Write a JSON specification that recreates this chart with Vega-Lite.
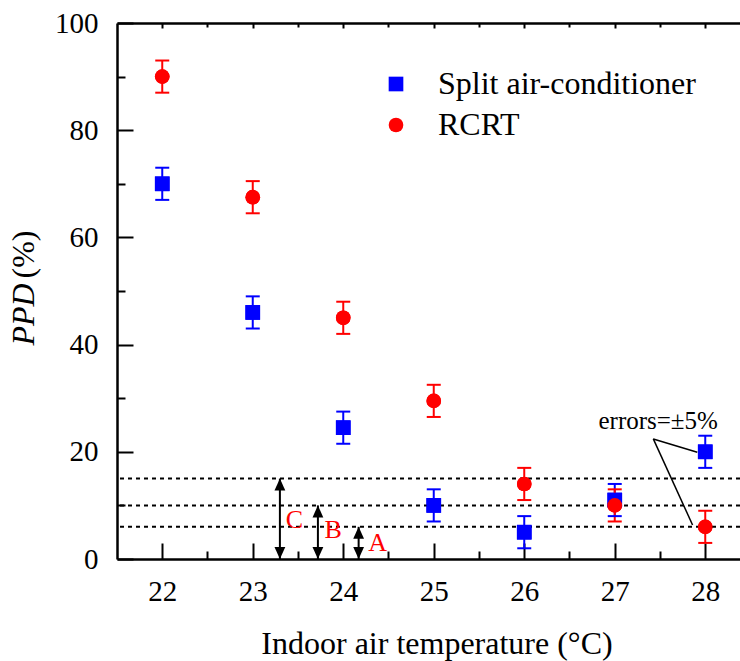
{
  "$schema": "https://vega.github.io/schema/vega-lite/v6.json",
  "width": 623,
  "height": 536,
  "autosize": "none",
  "padding": {"left": 117, "top": 23, "right": 0, "bottom": 102},
  "background": "white",
  "config": {
    "font": "Liberation Serif",
    "view": {"stroke": null},
    "axis": {
      "grid": false,
      "domainColor": "black",
      "domainWidth": 2.5,
      "tickColor": "black",
      "tickWidth": 2,
      "labelColor": "black",
      "labelFontSize": 29,
      "titleColor": "black",
      "titleFontSize": 32,
      "titleFontWeight": "normal",
      "labelFlush": false,
      "labelOverlap": false
    },
    "legend": {
      "labelFontSize": 32,
      "labelColor": "black",
      "labelLimit": 0,
      "symbolSize": 215,
      "labelOffset": 26,
      "rowPadding": 9,
      "padding": 0,
      "symbolStrokeWidth": 0,
      "symbolOpacity": 1
    }
  },
  "datasets": {
    "ppd": [
      {"temp": 22, "series": "Split air-conditioner", "ppd": 70, "lo": 67, "hi": 73},
      {"temp": 23, "series": "Split air-conditioner", "ppd": 46, "lo": 43, "hi": 49},
      {"temp": 24, "series": "Split air-conditioner", "ppd": 24.5, "lo": 21.5, "hi": 27.5},
      {"temp": 25, "series": "Split air-conditioner", "ppd": 10, "lo": 7, "hi": 13},
      {"temp": 26, "series": "Split air-conditioner", "ppd": 5, "lo": 2, "hi": 8},
      {"temp": 27, "series": "Split air-conditioner", "ppd": 11, "lo": 8, "hi": 14},
      {"temp": 28, "series": "Split air-conditioner", "ppd": 20, "lo": 17, "hi": 23},
      {"temp": 22, "series": "RCRT", "ppd": 90, "lo": 87, "hi": 93},
      {"temp": 23, "series": "RCRT", "ppd": 67.5, "lo": 64.5, "hi": 70.5},
      {"temp": 24, "series": "RCRT", "ppd": 45, "lo": 42, "hi": 48},
      {"temp": 25, "series": "RCRT", "ppd": 29.5, "lo": 26.5, "hi": 32.5},
      {"temp": 26, "series": "RCRT", "ppd": 14, "lo": 11, "hi": 17},
      {"temp": 27, "series": "RCRT", "ppd": 10, "lo": 7, "hi": 13},
      {"temp": 28, "series": "RCRT", "ppd": 6, "lo": 3, "hi": 9}
    ],
    "categories": [
      {"cat": "C", "ppd": 15, "base": 0, "temp": 23.3, "label_temp": 23.46, "label_ppd": 7.3},
      {"cat": "B", "ppd": 10, "base": 0, "temp": 23.72, "label_temp": 23.89, "label_ppd": 5.4},
      {"cat": "A", "ppd": 6, "base": 0, "temp": 24.17, "label_temp": 24.38, "label_ppd": 3.0}
    ],
    "leaders": [
      {"x1": 27.426, "y1": 22.4, "x2": 27.912, "y2": 19.92},
      {"x1": 27.426, "y1": 22.4, "x2": 27.86, "y2": 6.35}
    ],
    "notes": [
      {"temp": 27.48, "ppd": 25.8, "text": "errors=±5%"}
    ]
  },
  "resolve": {
    "axis": {"x": "independent", "y": "independent"},
    "legend": {"color": "independent", "shape": "independent"}
  },
  "layer": [
    {
      "data": {"name": "ppd"},
      "mark": {"type": "point", "filled": true, "size": 215, "opacity": 1},
      "encoding": {
        "x": {"field": "temp", "type": "quantitative", "scale": {"domain": [21.5, 28.384], "nice": false, "zero": false},
              "axis": {"orient": "bottom", "values": [22, 23, 24, 25, 26, 27, 28], "tickSize": -16, "labelPadding": 34, "domain": true,
                       "title": "Indoor air temperature (°C)", "titleX": 319.5, "titleY": 94, "titleAlign": "center", "titleBaseline": "alphabetic"}},
        "y": {"field": "ppd", "type": "quantitative", "scale": {"domain": [0, 100], "nice": false},
              "axis": {"orient": "left", "values": [0, 20, 40, 60, 80, 100], "tickSize": -16, "labelPadding": 35, "domain": true,
                       "title": "PPD", "titleFontStyle": "italic", "titleAngle": -90, "titleAlign": "left", "titleBaseline": "alphabetic",
                       "titleX": -84, "titleY": 322}},
        "color": {"field": "series", "type": "nominal",
                  "scale": {"domain": ["Split air-conditioner", "RCRT"], "range": ["#0000ff", "#ff0000"]},
                  "legend": {"title": null, "orient": "none", "legendX": 263, "legendY": 45}},
        "shape": {"field": "series", "type": "nominal",
                  "scale": {"domain": ["Split air-conditioner", "RCRT"], "range": ["square", "circle"]},
                  "legend": {"title": null, "orient": "none", "legendX": 263, "legendY": 45}}
      }
    },
    {
      "data": {"name": "categories"},
      "mark": {"type": "rule", "strokeDash": [4, 4], "strokeWidth": 2, "color": "black"},
      "encoding": {
        "y": {"field": "ppd", "type": "quantitative", "scale": {"domain": [0, 100], "nice": false}, "axis": null}
      }
    },
    {
      "data": {"name": "categories"},
      "mark": {"type": "rule", "strokeWidth": 2, "color": "black"},
      "encoding": {
        "x": {"field": "temp", "type": "quantitative", "scale": {"domain": [21.5, 28.384], "nice": false, "zero": false},
              "axis": {"orient": "bottom", "values": [22.5, 23.5, 24.5, 25.5, 26.5, 27.5], "tickSize": -8, "labels": false, "domain": false, "title": null}},
        "y": {"field": "base", "type": "quantitative", "scale": {"domain": [0, 100], "nice": false},
              "axis": {"orient": "left", "values": [10, 30, 50, 70, 90], "tickSize": -8, "labels": false, "domain": false, "title": null}},
        "y2": {"field": "ppd"}
      }
    },
    {
      "data": {"name": "categories"},
      "mark": {"type": "point", "shape": "M0,0L-0.9,2L0.9,2Z", "size": 144, "filled": true, "color": "black", "opacity": 1},
      "encoding": {
        "x": {"field": "temp", "type": "quantitative", "scale": {"domain": [21.5, 28.384], "nice": false, "zero": false},
              "axis": {"orient": "top", "values": [22, 23, 24, 25, 26, 27, 28], "tickSize": -5, "labels": false, "domain": true, "title": null}},
        "y": {"field": "ppd", "type": "quantitative", "scale": {"domain": [0, 100], "nice": false}, "axis": null}
      }
    },
    {
      "data": {"name": "categories"},
      "mark": {"type": "point", "shape": "M0,0L-0.9,-2L0.9,-2Z", "size": 144, "filled": true, "color": "black", "opacity": 1},
      "encoding": {
        "x": {"field": "temp", "type": "quantitative", "scale": {"domain": [21.5, 28.384], "nice": false, "zero": false},
              "axis": {"orient": "top", "values": [22.5, 23.5, 24.5, 25.5, 26.5, 27.5], "tickSize": -4, "labels": false, "domain": false, "title": null}},
        "y": {"field": "base", "type": "quantitative", "scale": {"domain": [0, 100], "nice": false}, "axis": null}
      }
    },
    {
      "data": {"name": "categories"},
      "mark": {"type": "text", "fontSize": 26, "color": "#ff0000", "align": "center", "baseline": "middle"},
      "encoding": {
        "x": {"field": "label_temp", "type": "quantitative", "scale": {"domain": [21.5, 28.384], "nice": false, "zero": false}, "axis": null},
        "y": {"field": "label_ppd", "type": "quantitative", "scale": {"domain": [0, 100], "nice": false},
              "axis": {"orient": "left", "ticks": false, "labels": false, "domain": false, "title": "(%)",
                       "titleFontStyle": "normal", "titleAngle": -90, "titleAlign": "left", "titleBaseline": "alphabetic",
                       "titleX": -84, "titleY": 255}},
        "text": {"field": "cat"}
      }
    },
    {
      "data": {"name": "ppd"},
      "mark": {"type": "rule", "strokeWidth": 2},
      "encoding": {
        "x": {"field": "temp", "type": "quantitative", "scale": {"domain": [21.5, 28.384], "nice": false, "zero": false}, "axis": null},
        "y": {"field": "lo", "type": "quantitative", "scale": {"domain": [0, 100], "nice": false}, "axis": null},
        "y2": {"field": "hi"},
        "stroke": {"field": "series", "type": "nominal",
                   "scale": {"domain": ["Split air-conditioner", "RCRT"], "range": ["#0000ff", "#ff0000"]}, "legend": null}
      }
    },
    {
      "data": {"name": "ppd"},
      "mark": {"type": "tick", "orient": "horizontal", "size": 14, "thickness": 2, "opacity": 1},
      "encoding": {
        "x": {"field": "temp", "type": "quantitative", "scale": {"domain": [21.5, 28.384], "nice": false, "zero": false}, "axis": null},
        "y": {"field": "lo", "type": "quantitative", "scale": {"domain": [0, 100], "nice": false}, "axis": null},
        "fill": {"field": "series", "type": "nominal",
                 "scale": {"domain": ["Split air-conditioner", "RCRT"], "range": ["#0000ff", "#ff0000"]}, "legend": null}
      }
    },
    {
      "data": {"name": "ppd"},
      "mark": {"type": "tick", "orient": "horizontal", "size": 14, "thickness": 2, "opacity": 1},
      "encoding": {
        "x": {"field": "temp", "type": "quantitative", "scale": {"domain": [21.5, 28.384], "nice": false, "zero": false}, "axis": null},
        "y": {"field": "hi", "type": "quantitative", "scale": {"domain": [0, 100], "nice": false}, "axis": null},
        "fill": {"field": "series", "type": "nominal",
                 "scale": {"domain": ["Split air-conditioner", "RCRT"], "range": ["#0000ff", "#ff0000"]}, "legend": null}
      }
    },
    {
      "data": {"name": "ppd"},
      "mark": {"type": "point", "filled": true, "size": 215, "opacity": 1},
      "encoding": {
        "x": {"field": "temp", "type": "quantitative", "scale": {"domain": [21.5, 28.384], "nice": false, "zero": false}, "axis": null},
        "y": {"field": "ppd", "type": "quantitative", "scale": {"domain": [0, 100], "nice": false}, "axis": null},
        "color": {"field": "series", "type": "nominal",
                  "scale": {"domain": ["Split air-conditioner", "RCRT"], "range": ["#0000ff", "#ff0000"]}, "legend": null},
        "shape": {"field": "series", "type": "nominal",
                  "scale": {"domain": ["Split air-conditioner", "RCRT"], "range": ["square", "circle"]}, "legend": null}
      }
    },
    {
      "data": {"name": "leaders"},
      "mark": {"type": "rule", "strokeWidth": 1.5, "color": "black"},
      "encoding": {
        "x": {"field": "x1", "type": "quantitative", "scale": {"domain": [21.5, 28.384], "nice": false, "zero": false}, "axis": null},
        "y": {"field": "y1", "type": "quantitative", "scale": {"domain": [0, 100], "nice": false}, "axis": null},
        "x2": {"field": "x2"},
        "y2": {"field": "y2"}
      }
    },
    {
      "data": {"name": "notes"},
      "mark": {"type": "text", "fontSize": 25, "color": "black", "align": "center", "baseline": "middle"},
      "encoding": {
        "x": {"field": "temp", "type": "quantitative", "scale": {"domain": [21.5, 28.384], "nice": false, "zero": false}, "axis": null},
        "y": {"field": "ppd", "type": "quantitative", "scale": {"domain": [0, 100], "nice": false}, "axis": null},
        "text": {"field": "text"}
      }
    }
  ]
}
